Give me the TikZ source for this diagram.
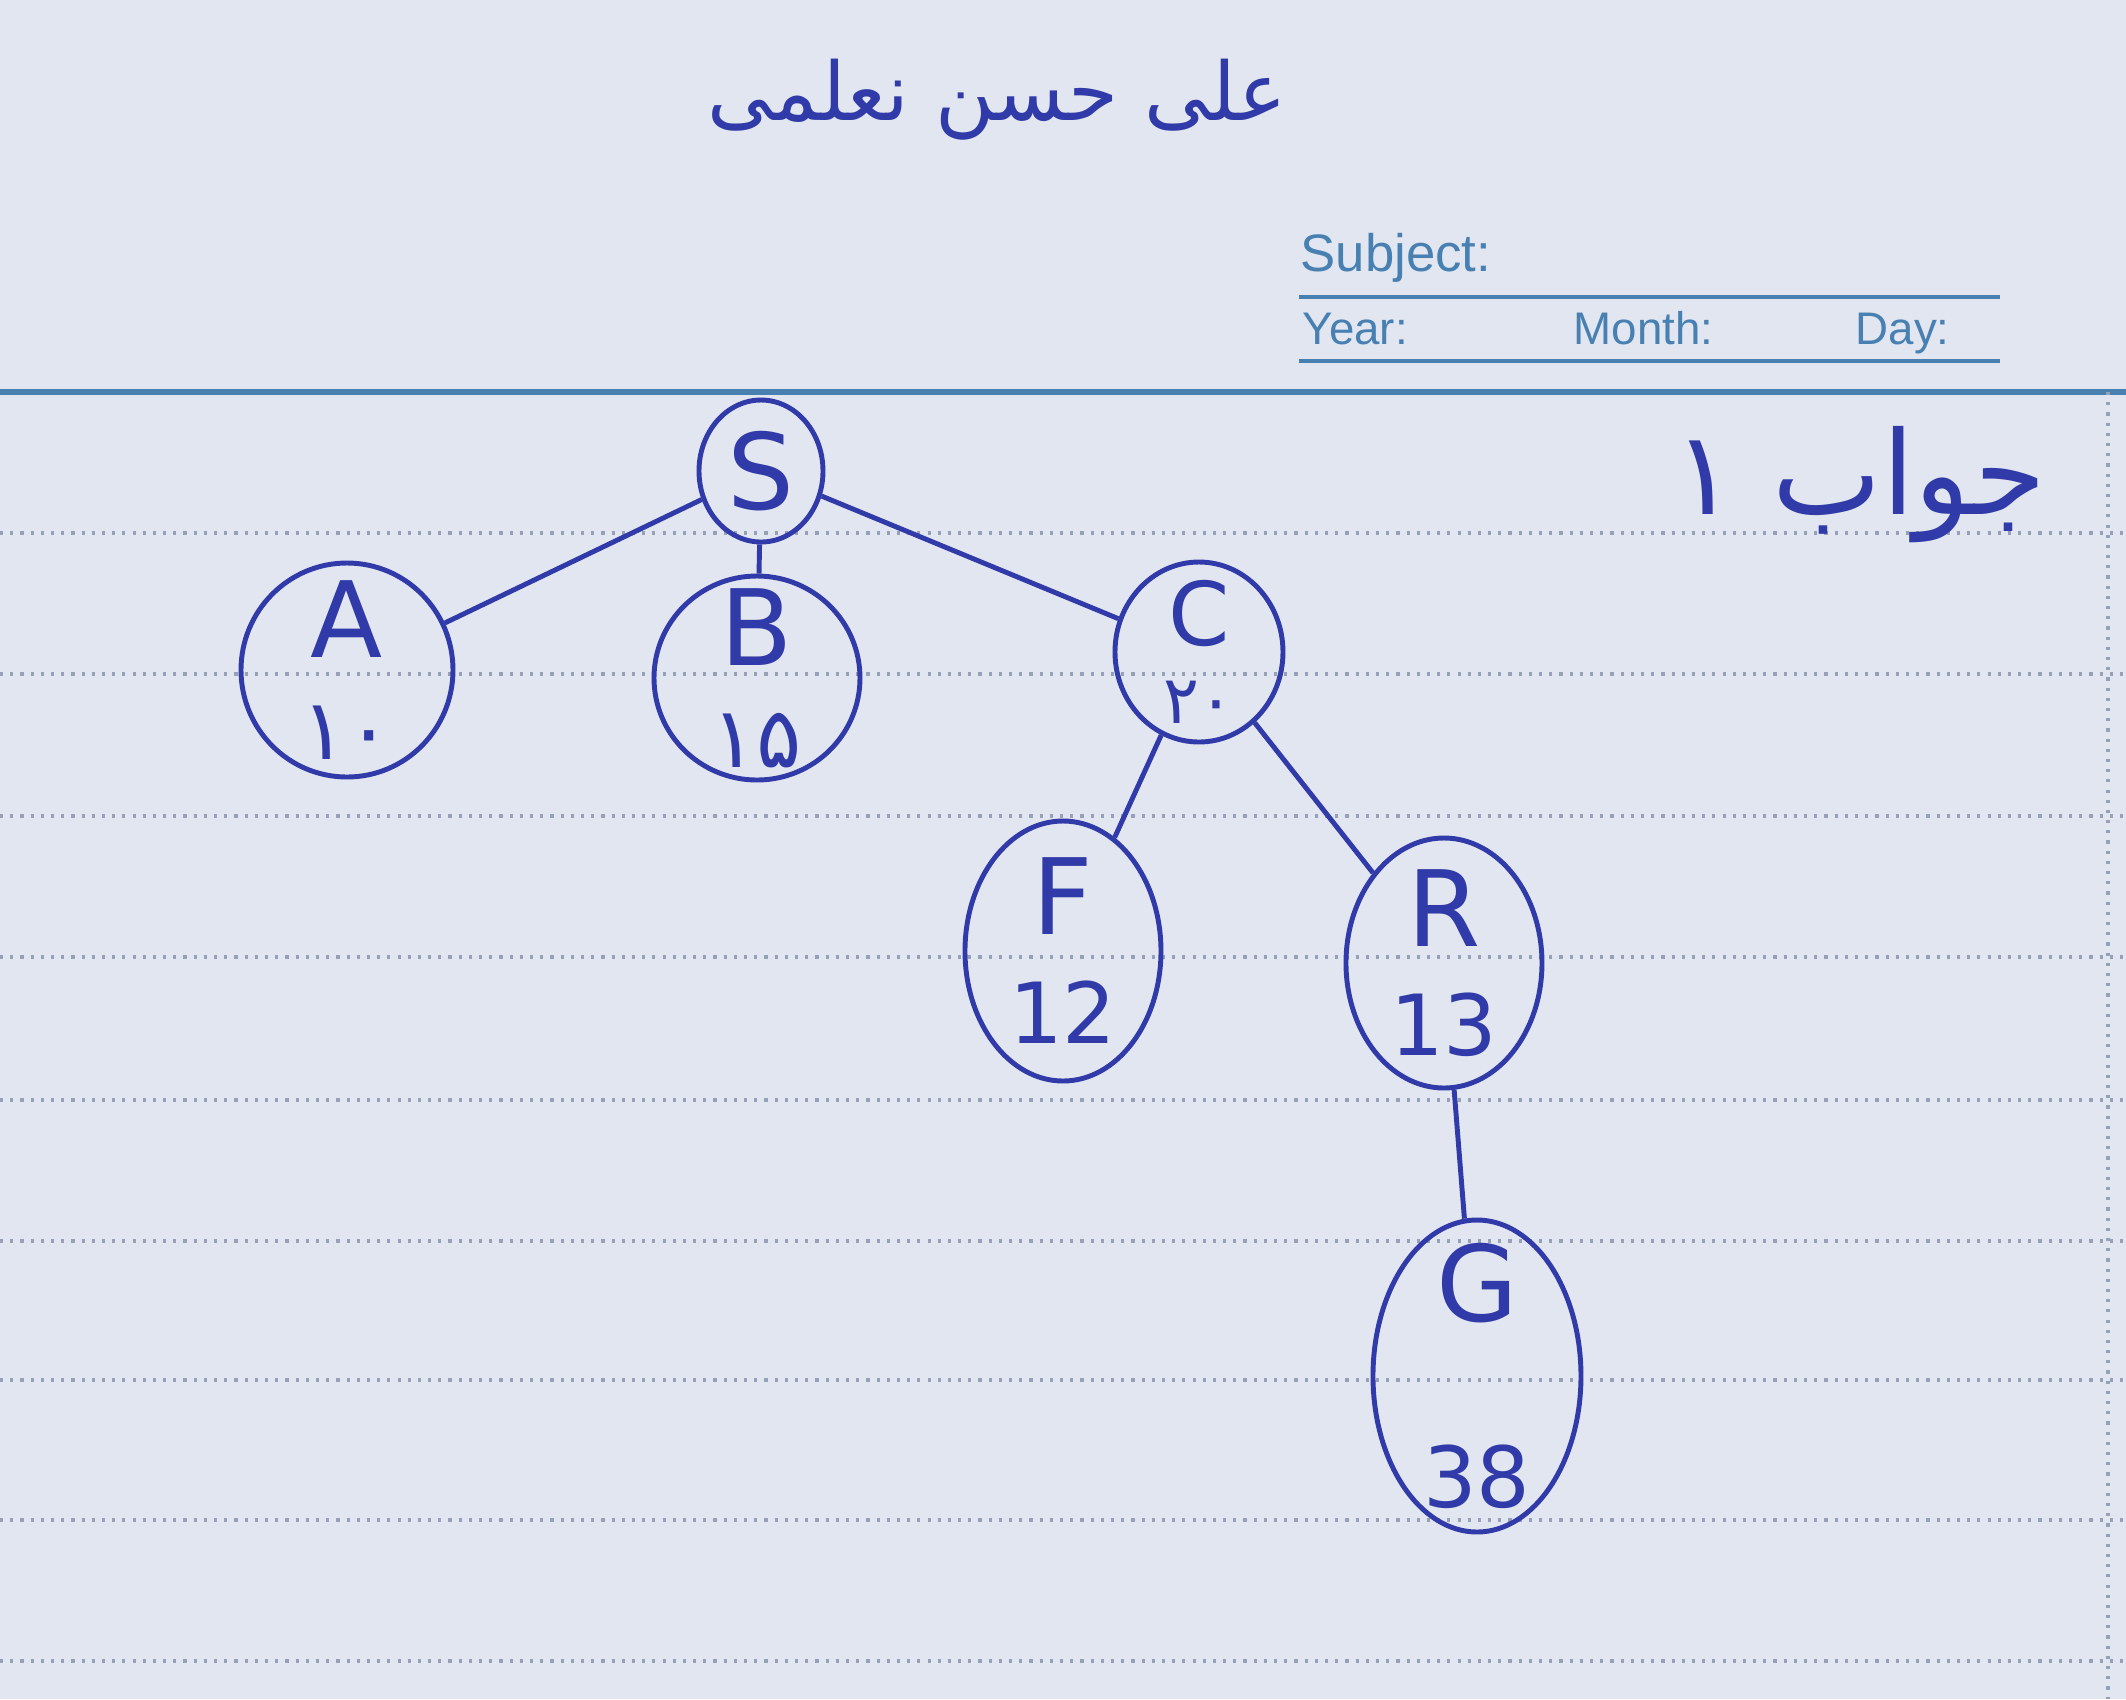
\documentclass[tikz,border=0pt]{standalone}
\usepackage{fontspec}
\setmainfont{DejaVu Sans}
\newfontfamily\arabicfont[Script=Arabic]{DejaVu Sans}
\newfontfamily\printfont{Liberation Sans}
\TeXXeTstate=1
\usetikzlibrary{shapes.geometric}
\definecolor{ink}{RGB}{48,58,168}
\definecolor{paper}{RGB}{226,230,240}
\definecolor{rule}{RGB}{72,128,178}
\definecolor{dots}{RGB}{150,160,182}
\newcommand\digitsize{\fontsize{24}{24}\selectfont}

\begin{document}
\begin{tikzpicture}[
    treenode/.style={ellipse, draw=ink, line width=1.4pt, inner sep=-12pt, text=ink,
                     align=center, font=\fontsize{30}{27}\selectfont},
    edge/.style={draw=ink, line width=1.4pt},
    printed/.style={text=rule, inner sep=0pt, anchor=base west, font=\printfont\fontsize{15}{15}\selectfont},
    small/.style={font=\printfont\fontsize{13}{13}\selectfont},
    hand/.style={text=ink, inner sep=0pt, font=\arabicfont\fontsize{30}{30}\selectfont},
  ]
  \fill[paper] (0,0) rectangle (21.26,-16.99);
  \useasboundingbox (0,0) rectangle (21.26,-16.99);
  % notebook rules
  \draw[rule, line width=1.6pt] (0,-3.92) -- (21.26,-3.92);
  \foreach \y in {5.33,6.74,8.16,9.57,11.0,12.41,13.80,15.20,16.61}
    \draw[dots, dotted, line width=0.9pt] (0,-\y) -- (21.26,-\y);
  \draw[dots, dotted, line width=0.9pt] (21.08,-3.92) -- (21.08,-16.99);
  \draw[rule, line width=1.2pt] (12.99,-2.97) -- (20.0,-2.97);
  \draw[rule, line width=1.2pt] (12.99,-3.61) -- (20.0,-3.61);
  \node[printed] (subj) at (13.0,-2.71) {Subject:};
  \node[printed, small] (year) at (13.02,-3.44) {Year:};
  \node[printed, small] (month) at (15.73,-3.44) {Month:};
  \node[printed, small] (day) at (18.55,-3.44) {Day:};
  % handwriting
  \node[hand, font=\arabicfont\fontsize{23}{23}\selectfont] (name) at (9.97,-1.0) {\beginR علی حسن نعلمی\endR};
  \node[hand, font=\arabicfont\fontsize{33}{33}\selectfont] (answer) at (18.6,-4.85) {\beginR جواب ۱\endR};
  % tree
  \node[treenode, minimum width=1.24cm, minimum height=1.42cm] (S) at (7.61,-4.71) {S};
  \node[treenode, minimum width=2.12cm, minimum height=2.14cm] (A) at (3.47,-6.70) {A\\[2pt]{\digitsize ۱۰}};
  \node[treenode, minimum width=2.06cm, minimum height=2.04cm] (B) at (7.57,-6.78) {B\\[2pt]{\digitsize ۱۵}};
  \node[treenode, minimum width=1.68cm, minimum height=1.80cm, font=\fontsize{25}{24}\selectfont] (C) at (11.99,-6.52) {C\\[-2pt]{\fontsize{19}{19}\selectfont ۲۰}};
  \node[treenode, minimum width=1.96cm, minimum height=2.60cm] (F) at (10.63,-9.51) {F\\[4pt]{\digitsize 12}};
  \node[treenode, minimum width=1.96cm, minimum height=2.50cm] (R) at (14.44,-9.63) {R\\[4pt]{\digitsize 13}};
  \node[treenode, minimum width=2.08cm, minimum height=3.12cm] (G) at (14.77,-13.76) {G\\[26pt]{\digitsize 38}};
  \draw[edge] (S) -- (A);
  \draw[edge] (S) -- (B);
  \draw[edge] (S) -- (C);
  \draw[edge] (C) -- (F);
  \draw[edge] (C) -- (R);
  \draw[edge] (R) -- (G);
\end{tikzpicture}
\end{document}
